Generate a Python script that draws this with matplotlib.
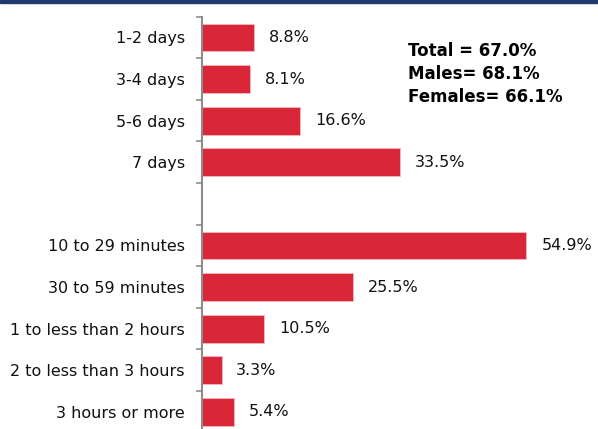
import matplotlib.pyplot as plt
from matplotlib.ticker import FixedLocator

categories = ['1-2 days', '3-4 days', '5-6 days', '7 days', '',
              '10 to 29 minutes', '30 to 59 minutes', '1 to less than 2 hours',
              '2 to less than 3 hours', '3 hours or more']
values = [8.8, 8.1, 16.6, 33.5, None, 54.9, 25.5, 10.5, 3.3, 5.4]
summary = ['Total = 67.0%', 'Males= 68.1%', 'Females= 66.1%']

bar_color = '#DA2639'
axis_color = '#8C8C8C'

fig = plt.figure(figsize=(5.98, 4.29), dpi=100)
ax = fig.add_axes([202 / 598, 1 - 432.7 / 429, 1 - 202 / 598, 416 / 429])

pos = [i for i, v in enumerate(values) if v is not None]
vals = [v for v in values if v is not None]
ax.barh(pos, vals, height=0.67, color=bar_color, edgecolor='#F2B8BE', linewidth=0.6)

for p, v in zip(pos, vals):
    ax.text(v + 2.5, p, f'{v:.1f}%', va='center', ha='left', fontsize=11.5, color='#111111')

ax.set_xlim(0, 67)
ax.set_ylim(len(categories) - 0.5, -0.5)

ax.set_yticks(range(len(categories)))
ax.set_yticklabels(categories, fontsize=11.5, color='#111111')
ax.tick_params(axis='y', which='major', length=0, pad=12.5)
ax.yaxis.set_minor_locator(FixedLocator([k - 0.5 for k in range(len(categories) + 1)]))
ax.tick_params(axis='y', which='minor', length=4, width=1.2, color=axis_color)
ax.set_xticks([])

for s in ['top', 'right', 'bottom']:
    ax.spines[s].set_visible(False)
ax.spines['left'].set_color(axis_color)
ax.spines['left'].set_linewidth(1.5)

for i, line in enumerate(summary):
    fig.text(408 / 598, 1 - (51 + 23 * i) / 429, line, fontsize=12, fontweight='bold',
             va='center', ha='left', color='#000000')

# dark band across the top
fig.add_artist(plt.Rectangle((0, 1 - 3 / 429), 1, 3 / 429, transform=fig.transFigure,
                             color='#1F3B6E', clip_on=False))

fig.savefig('out.png', dpi=100)
